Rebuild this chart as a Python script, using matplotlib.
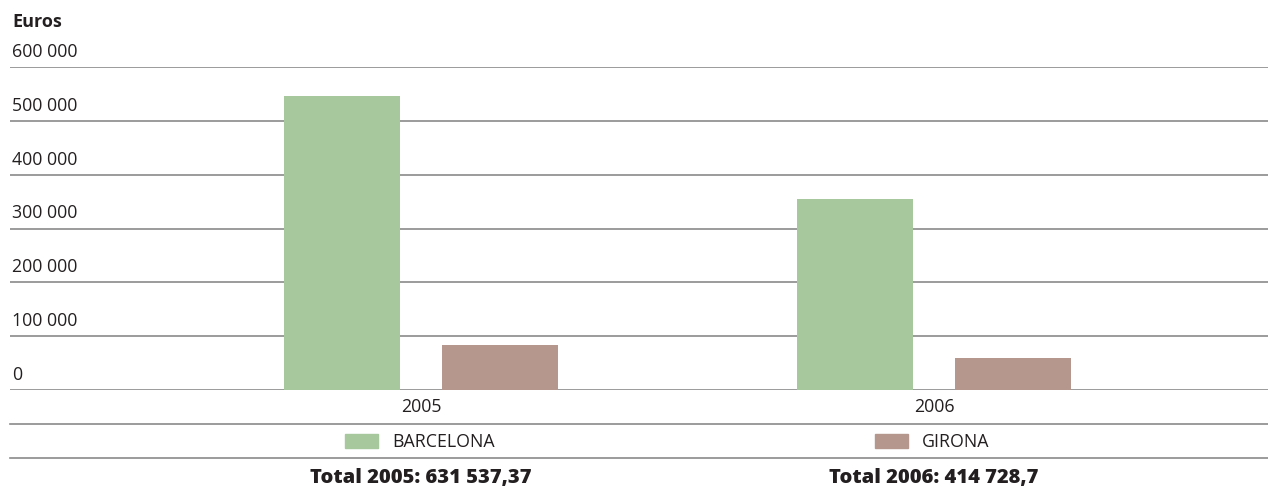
import matplotlib.pyplot as plt
import matplotlib.transforms as mtransforms
from matplotlib.lines import Line2D
from matplotlib.patches import Rectangle
import numpy as np

years = ["2005", "2006"]
series_names = ["BARCELONA", "GIRONA"]
barcelona = [547000, 355000]
girona = [84500, 59700]
totals = ["631 537,37", "414 728,7"]
yticks = [0, 100000, 200000, 300000, 400000, 500000, 600000]

colors = ["#a7c79c", "#b5978d"]
grid_color = "#8a8a8a"
text_color = "#231f20"

plt.rcParams['font.family'] = ['Open Sans', 'DejaVu Sans']

W, H = 1268, 488
fig = plt.figure(figsize=(W / 100, H / 100), dpi=100)
ax = fig.add_axes([10 / W, 1 - 390 / H, 1 - 10 / W, (390 - 67) / H])

x = np.arange(len(years))
width = 0.226
off = 0.154
ax.bar(x - off, barcelona, width, color=colors[0], zorder=3)
ax.bar(x + off, girona, width, color=colors[1], zorder=3)

ax.set_xlim(-0.801, 1.651)
ax.set_ylim(0, 600000)
ax.set_yticks(yticks)
ax.yaxis.grid(True, color=grid_color, linewidth=1.2, zorder=1)
ax.tick_params(axis='y', length=0, labelleft=False)
for s in ax.spines.values():
    s.set_visible(False)

# y tick labels sit above each gridline
trans = mtransforms.blended_transform_factory(ax.transAxes, ax.transData)
shift = mtransforms.ScaledTranslation(0, 6 / 100, fig.dpi_scale_trans)
for v in yticks:
    lab = f"{v:,}".replace(",", " ")
    ax.text(2 / (W - 10), v, lab, transform=trans + shift, ha='left', va='bottom',
            fontsize=12.8, color=text_color)

ax.set_xticks(x)
ax.set_xticklabels(years, fontsize=12.8, color=text_color)
ax.tick_params(axis='x', length=0, pad=6)

fig.text(12 / W, 1 - 22 / H, "Euros", fontsize=13, fontweight='bold',
         color=text_color, ha='left', va='center')

# table lines below the axis
for yy in [424, 458]:
    fig.add_artist(Line2D([10 / W, 1], [1 - yy / H, 1 - yy / H], color=grid_color,
                          linewidth=1.2, transform=fig.transFigure))

# legend row
leg_x = [345, 875]
for name, c, lx in zip(series_names, colors, leg_x):
    fig.add_artist(Rectangle((lx / W, 1 - 448 / H), 33 / W, 14 / H, color=c,
                             transform=fig.transFigure))
    fig.text((lx + 47) / W, 1 - 442 / H, name, fontsize=12.8, color=text_color,
             ha='left', va='center')

# totals row
for i, (yr, t) in enumerate(zip(years, totals)):
    xc = ax.transData.transform((x[i], 0))[0]
    fig.text(xc / W, 1 - 478 / H, f"Total {yr}: {t}", fontsize=14.5,
             fontweight='heavy', color=text_color, ha='center', va='center')

fig.savefig("out.png", dpi=100)
